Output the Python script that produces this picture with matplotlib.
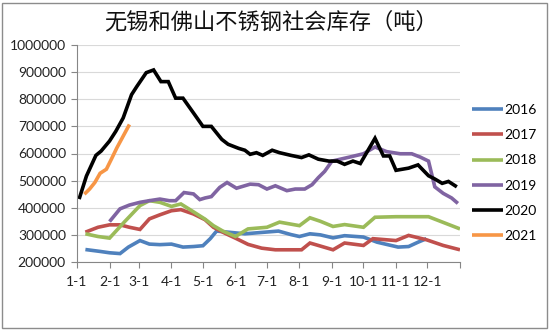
# coding: utf-8
import matplotlib
matplotlib.use("Agg")
import matplotlib.pyplot as plt
from matplotlib.patches import Rectangle

# day of year for each point, values in tonnes
days_2016 = [8, 22, 31, 41, 49, 60, 69, 79, 90, 101, 111, 120, 127, 133, 144,
             160, 176, 192, 204, 212, 222, 232, 244, 255, 273, 286, 306, 316,
             325, 333]
vals_2016 = [246, 239, 234, 231, 255, 279, 266, 264, 266, 255, 257, 260, 286,
             314, 310, 304, 309, 314, 301, 294, 304, 300, 289, 297, 292, 273,
             255, 257, 273, 286]

days_2017 = [8, 20, 31, 41, 50, 60, 69, 79, 90, 99, 111, 122, 130, 141, 152,
             163, 176, 189, 204, 214, 222, 230, 244, 255, 273, 282, 304, 316,
             333, 349, 365]
vals_2017 = [310, 328, 337, 337, 328, 320, 359, 374, 389, 393, 377, 356, 328,
             306, 286, 265, 251, 245, 245, 245, 270, 261, 245, 270, 261, 286,
             279, 298, 282, 261, 245]

days_2018 = [8, 20, 31, 45, 60, 69, 79, 90, 99, 111, 122, 130, 139, 151, 163,
             181, 193, 212, 222, 232, 244, 255, 273, 284, 304, 335, 365]
vals_2018 = [304, 294, 288, 347, 408, 426, 420, 405, 414, 385, 358, 334, 314,
             294, 322, 328, 347, 334, 363, 350, 331, 338, 328, 365, 367, 367,
             322]

days_2019 = [31, 41, 50, 60, 69, 79, 88, 94, 102, 111, 117, 122, 128, 136, 143,
             152, 165, 173, 181, 189, 200, 208, 217, 224, 230, 236, 243, 251,
             260, 273, 284, 295, 308, 319, 327, 335, 341, 349, 357, 363]
vals_2019 = [349, 396, 410, 420, 426, 432, 426, 426, 456, 451, 430, 436, 441,
             475, 493, 472, 487, 485, 469, 481, 463, 469, 469, 485, 511, 534,
             572, 579, 587, 599, 624, 607, 599, 599, 587, 572, 477, 453, 436,
             416]

days_2020 = [2, 9, 18, 23, 31, 37, 44, 52, 57, 66, 73, 80, 87, 94, 101, 112,
             120, 128, 138, 144, 154, 160, 165, 171, 177, 186, 193, 204, 214,
             221, 230, 240, 248, 255, 263, 270, 284, 292, 298, 304, 316, 325,
             335, 341, 348, 354, 362]
vals_2020 = [432, 517, 593, 609, 646, 682, 731, 817, 847, 898, 908, 865, 865,
             804, 804, 744, 700, 700, 652, 634, 619, 612, 597, 603, 593, 612,
             603, 593, 585, 595, 579, 572, 572, 560, 572, 563, 656, 591, 591,
             538, 546, 558, 518, 506, 490, 497, 477]

days_2021 = [7, 12, 17, 22, 28, 33, 38, 44, 50]
vals_2021 = [450, 469, 493, 527, 542, 581, 621, 664, 707]

years = ["2016", "2017", "2018", "2019", "2020", "2021"]
colors = ["#4F81BD", "#C0504D", "#9BBB59", "#8064A2", "#000000", "#F79646"]

month_starts = [0, 31, 59, 90, 120, 151, 181, 212, 243, 273, 304, 334, 365]
month_labels = ["%d-1" % m for m in range(1, 13)] + [""]

plt.rcParams["font.family"] = ["Lato", "DejaVu Sans"]

fig = plt.figure(figsize=(5.5, 3.3), dpi=100)
ax = fig.add_axes([77 / 550, 1 - 262 / 330, 383 / 550, 217 / 330])

series = [(days_2016, vals_2016), (days_2017, vals_2017),
          (days_2018, vals_2018), (days_2019, vals_2019),
          (days_2020, vals_2020), (days_2021, vals_2021)]
for (d, v), year, c in zip(series, years, colors):
    ax.plot(d, [x * 1000 for x in v], color=c, lw=2.6, label=year,
            solid_capstyle="butt", solid_joinstyle="miter")

ax.set_xlim(0, 365)
ax.set_ylim(200000, 1000000)
ax.set_yticks(range(200000, 1000001, 100000))
ax.set_yticklabels([str(t) for t in range(200000, 1000001, 100000)])
ax.set_xticks(month_starts)
ax.set_xticklabels(month_labels)

ax.grid(axis="y", color="#D9D9D9", lw=0.8)
ax.set_axisbelow(True)
for s in ["top", "right"]:
    ax.spines[s].set_visible(False)
for s in ["left", "bottom"]:
    ax.spines[s].set_color("#868686")
    ax.spines[s].set_linewidth(0.8)
ax.tick_params(axis="both", colors="#868686", labelcolor="#222222",
               labelsize=10, length=4, width=0.8)
ax.tick_params(axis="x", pad=6)
ax.tick_params(axis="y", pad=4)

fig.text(271 / 550, 1 - 22 / 330, "无锡和佛山不锈钢社会库存（吨）",
         family=["Noto Sans CJK SC", "DejaVu Sans"], fontsize=16,
         ha="center", va="center", color="#111111")

fig.legend(loc="center left", bbox_to_anchor=(472 / 550, 1 - 173 / 330),
           frameon=False, fontsize=10, handlelength=2.2, handletextpad=0.15,
           labelspacing=0.95, borderpad=0, borderaxespad=0)

fig.patches.append(Rectangle((2 / 550, 2 / 330), 545 / 550, 325 / 330,
                             transform=fig.transFigure, fill=False,
                             edgecolor="#8C8C8C", lw=1))

fig.savefig("out.png", dpi=100)
